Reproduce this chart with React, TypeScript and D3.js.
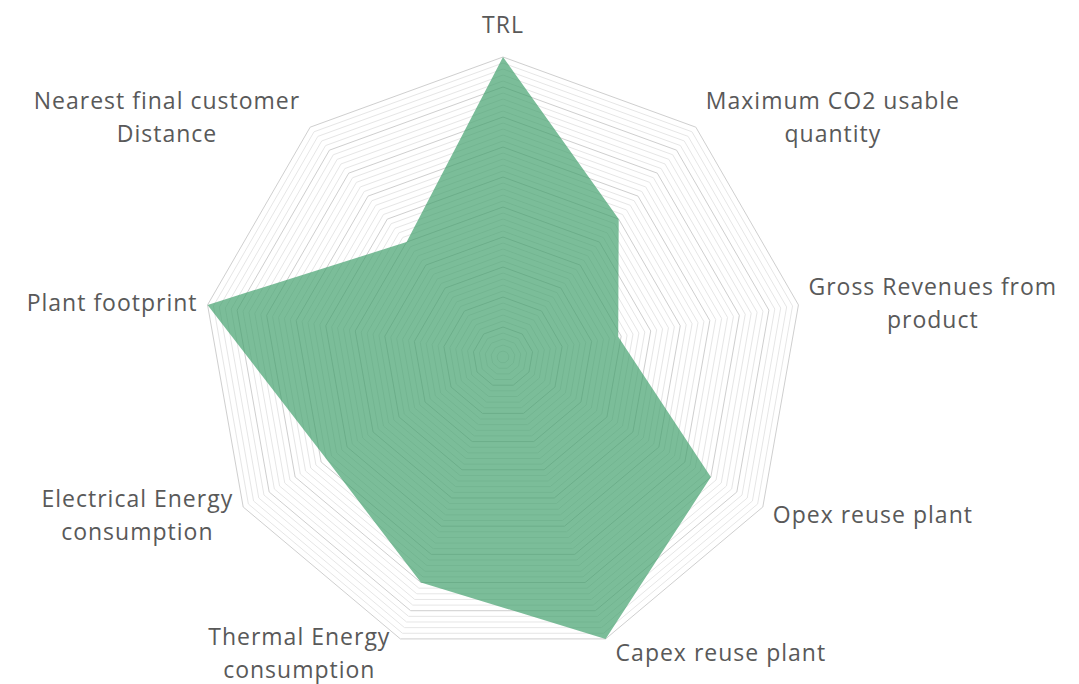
import React, { useRef, useEffect } from "react";
import * as d3 from "d3";

// axis labels, one entry per line of text
const axisLabels: string[][] = [
  ["TRL"],
  ["Maximum CO2 usable", "quantity"],
  ["Gross Revenues from", "product"],
  ["Opex reuse plant"],
  ["Capex reuse plant"],
  ["Thermal Energy", "consumption"],
  ["Electrical Energy", "consumption"],
  ["Plant footprint"],
  ["Nearest final customer", "Distance"],
];
const scores = [10, 6, 3.9, 8, 10, 8, 6.8, 10, 5];
const maxScore = 10;
const minorPerUnit = 5;

const RadarChart = ({ width = 1079, height = 684 }) => {
  const svgRef = useRef<SVGSVGElement>(null);

  useEffect(() => {
    document.body.style.margin = "0";
    const svg = d3.select(svgRef.current);
    svg.selectAll("*").remove();

    const cx = 503;
    const cy = 357;
    const radius = 300;
    const n = axisLabels.length;

    const rScale = d3.scaleLinear().domain([0, maxScore]).range([0, radius]);
    const angle = d3.scaleLinear().domain([0, n]).range([0, 2 * Math.PI]);

    const radial = d3
      .lineRadial<number>()
      .angle((_, i) => angle(i))
      .radius(d => rScale(d))
      .curve(d3.curveLinearClosed);

    const chart = svg.append("g").attr("transform", `translate(${cx},${cy})`);

    // grid rings, minor first then major on top
    const levels = d3.range(1, maxScore * minorPerUnit + 1).map(k => k / minorPerUnit);
    const minor = levels.filter((_, k) => (k + 1) % minorPerUnit !== 0);
    const major = levels.filter((_, k) => (k + 1) % minorPerUnit === 0);

    chart
      .selectAll("path.minor")
      .data(minor)
      .join("path")
      .attr("class", "minor")
      .attr("d", lv => radial(axisLabels.map(() => lv)))
      .attr("fill", "none")
      .attr("stroke", "#e6e6e6")
      .attr("stroke-width", 1);

    chart
      .selectAll("path.major")
      .data(major)
      .join("path")
      .attr("class", "major")
      .attr("d", lv => radial(axisLabels.map(() => lv)))
      .attr("fill", "none")
      .attr("stroke", "#cfcfcf")
      .attr("stroke-width", 1);

    // the series area (semi transparent, grid shows through)
    chart
      .append("path")
      .datum(scores)
      .attr("d", radial)
      .attr("fill", "#3d9e68")
      .attr("fill-opacity", 0.68)
      .attr("stroke", "none");

    // category labels
    const gap = 10;
    const lineHeight = 33;
    axisLabels.forEach((lines, i) => {
      const a = angle(i);
      const sx = Math.sin(a);
      const cs = Math.cos(a);
      const px = sx * rScale(maxScore);
      const py = -cs * rScale(maxScore);

      const text = chart
        .append("text")
        .attr("text-anchor", "middle")
        .style("font-family", "'Open Sans', sans-serif")
        .style("font-size", "23px")
        .style("letter-spacing", "1px")
        .attr("fill", "#595959");

      lines.forEach((l, j) => {
        text
          .append("tspan")
          .attr("x", 0)
          .attr("y", j * lineHeight)
          .text(l);
      });

      const box = (text.node() as SVGTextElement).getBBox();
      let tx = px - (box.x + box.width / 2);
      if (sx > 0.1) tx = px + gap - box.x;
      else if (sx < -0.1) tx = px - gap - (box.x + box.width);

      let centerY = py - cs * 14;
      if (cs > 0.95) centerY = py - 33;
      const ty = centerY - (box.y + box.height / 2);

      text.attr("transform", `translate(${tx},${ty})`);
    });
  }, [width, height]);

  return (
    <svg ref={svgRef} width={width} height={height} style={{ display: "block" }}></svg>
  );
};

export default function App() {
  return <RadarChart />;
}
